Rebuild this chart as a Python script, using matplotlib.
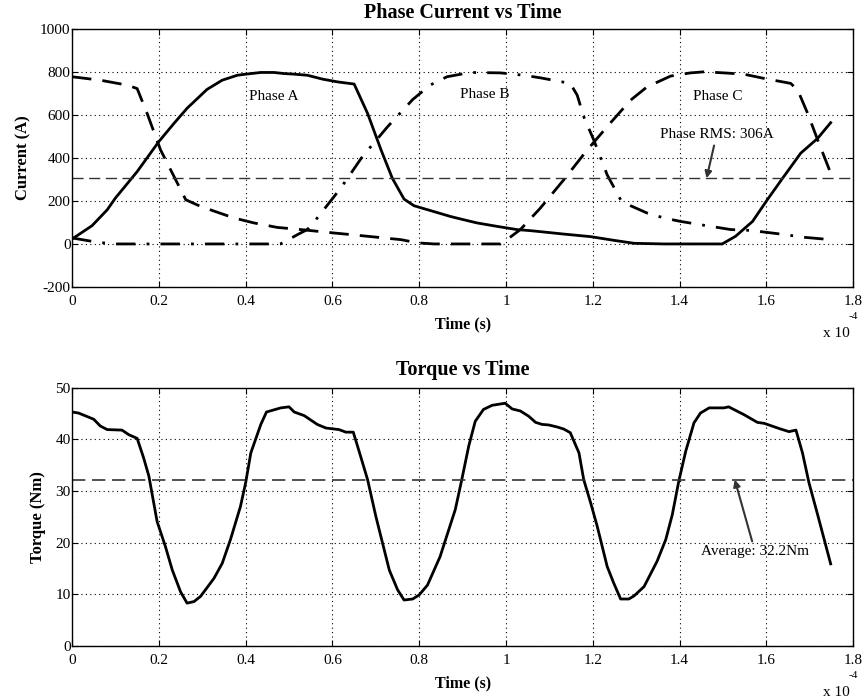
import matplotlib
matplotlib.use("Agg")
import matplotlib.pyplot as plt

plt.rcParams['font.family'] = ['Liberation Serif', 'DejaVu Serif']
plt.rcParams['axes.unicode_minus'] = False

# ---- Data (time in units of 1e-4 s) ----
t_a = [0, 0.046, 0.081, 0.1, 0.15, 0.2, 0.235, 0.265, 0.311, 0.346, 0.381, 0.4, 0.435, 0.465,
       0.488, 0.512, 0.542, 0.577, 0.612, 0.65, 0.681, 0.712, 0.738, 0.765, 0.788, 0.825,
       0.872, 0.902, 0.933, 0.979, 1.025, 1.056, 1.095, 1.133, 1.195, 1.248, 1.295, 1.364,
       1.498, 1.529, 1.568, 1.602, 1.64, 1.679, 1.718, 1.748]
i_a = [23, 85, 159, 214, 337, 477, 562, 632, 720, 763, 786, 791, 799, 799,
       794, 791, 786, 768, 755, 745, 608, 438, 306, 209, 178, 156,
       128, 113, 98, 82, 67, 62, 54, 46, 34, 17, 3, 0,
       0, 36, 105, 206, 314, 423, 492, 565]

t_b = [0, 0.058, 0.096, 0.48, 0.496, 0.519, 0.542, 0.565, 0.619, 0.669, 0.727, 0.785, 0.825,
       0.864, 0.918, 0.987, 1.041, 1.079, 1.148, 1.164, 1.179, 1.202, 1.233, 1.264, 1.287,
       1.325, 1.364, 1.402, 1.456, 1.518, 1.564, 1.625, 1.687, 1.748]
i_b = [28, 8, 0, 0, 17, 43, 67, 121, 260, 407, 546, 673, 740,
       779, 799, 797, 786, 774, 748, 693, 593, 485, 322, 206, 178,
       144, 121, 105, 87, 67, 63, 48, 31, 20]

t_c = [0, 0.065, 0.127, 0.15, 0.173, 0.204, 0.235, 0.262, 0.296, 0.373, 0.419, 0.473, 0.527,
       0.604, 0.65, 0.704, 0.758, 0.796, 0.835, 0.987, 1.002, 1.033, 1.079, 1.133, 1.187,
       1.241, 1.287, 1.325, 1.379, 1.425, 1.456, 1.502, 1.548, 1.595, 1.656, 1.672, 1.695,
       1.718, 1.748]
i_c = [779, 763, 740, 724, 608, 438, 314, 206, 175, 121, 98, 77, 67,
       51, 42, 31, 20, 5, 0, 0, 20, 67, 167, 299, 438,
       565, 670, 732, 782, 797, 802, 797, 791, 771, 748, 717, 608,
       485, 330]

phase_rms = 306

t_q = [0, 0.015, 0.05, 0.065, 0.081, 0.115, 0.131, 0.15, 0.165, 0.177, 0.196, 0.215, 0.231,
       0.25, 0.265, 0.281, 0.296, 0.327, 0.346, 0.365, 0.388, 0.4, 0.412, 0.435, 0.448,
       0.481, 0.5, 0.512, 0.535, 0.565, 0.585, 0.615, 0.631, 0.648, 0.665, 0.681, 0.7,
       0.731, 0.75, 0.765, 0.785, 0.8, 0.819, 0.848, 0.883, 0.898, 0.914, 0.929, 0.948,
       0.968, 0.998, 1.014, 1.033, 1.052, 1.068, 1.083, 1.098, 1.118, 1.133, 1.148, 1.168,
       1.179, 1.195, 1.21, 1.233, 1.248, 1.264, 1.283, 1.295, 1.318, 1.348, 1.368, 1.383,
       1.398, 1.414, 1.433, 1.448, 1.468, 1.502, 1.513, 1.548, 1.579, 1.595, 1.633, 1.652,
       1.668, 1.683, 1.698, 1.718, 1.748]
torque = [45.3, 45.1, 43.9, 42.6, 41.9, 41.8, 40.9, 40.2, 36.4, 32.9, 24.1, 19.3, 14.7,
          10.5, 8.3, 8.6, 9.6, 13.1, 16.0, 20.6, 27.0, 31.6, 37.4, 42.9, 45.3,
          46.1, 46.3, 45.3, 44.6, 42.9, 42.2, 41.9, 41.4, 41.4, 36.7, 32.2, 25.1,
          14.7, 10.9, 8.9, 9.1, 9.9, 11.8, 17.3, 26.4, 32.2, 38.7, 43.5, 45.8,
          46.6, 47.0, 45.9, 45.5, 44.5, 43.3, 42.9, 42.8, 42.4, 42.0, 41.3, 37.4,
          32.2, 27.7, 23.2, 15.4, 12.2, 9.1, 9.1, 9.7, 11.5, 16.4, 20.6, 25.4,
          31.9, 37.7, 43.2, 45.1, 46.1, 46.1, 46.3, 44.8, 43.3, 43.1, 42.0, 41.5,
          41.8, 37.4, 31.6, 25.4, 15.9]
torque_avg = 32.2

x_ticks = [0, 0.2, 0.4, 0.6, 0.8, 1, 1.2, 1.4, 1.6, 1.8]
x_ticklabels = ['0', '0.2', '0.4', '0.6', '0.8', '1', '1.2', '1.4', '1.6', '1.8']
cur_ticks = [-200, 0, 200, 400, 600, 800, 1000]
tq_ticks = [0, 10, 20, 30, 40, 50]

fig = plt.figure(figsize=(8.68, 6.98), dpi=100)
ax1 = fig.add_axes([0.083, 0.589, 0.9, 0.369])
ax2 = fig.add_axes([0.083, 0.0745, 0.9, 0.37])


def style(ax, yticks):
    ax.set_xlim(0, 1.8)
    ax.set_xticks(x_ticks)
    ax.set_xticklabels(x_ticklabels)
    ax.set_yticks(yticks)
    ax.set_ylim(yticks[0], yticks[-1])
    ax.tick_params(direction='in', top=True, right=True, labelsize=11, length=4, width=0.8)
    ax.tick_params(axis='y', pad=1)
    ax.tick_params(axis='x', pad=6)
    ax.grid(True, linestyle=(0, (1, 3)), color='black', linewidth=0.8)
    for s in ax.spines.values():
        s.set_linewidth(1.0)
    ax.text(0.978, -0.18, 'x 10', transform=ax.transAxes, ha='center', va='center', fontsize=11)
    ax.text(1.0, -0.115, '-4', transform=ax.transAxes, ha='center', va='center', fontsize=8)


arrow_kw = dict(arrowstyle='-|>', color='#333333', lw=1.5, shrinkA=1, shrinkB=0,
                mutation_scale=10)

# ---- Top plot ----
ax1.plot(t_a, i_a, color='black', lw=2)
ax1.plot(t_b, i_b, color='black', lw=2, dashes=(7, 4, 1, 4))
ax1.plot(t_c, i_c, color='black', lw=2, dashes=(7, 4))
ax1.axhline(phase_rms, color='#333333', lw=1, dashes=(8, 4))
style(ax1, cur_ticks)
ax1.set_title('Phase Current vs Time', fontsize=14.5, fontweight='bold', pad=8)
ax1.set_xlabel('Time (s)', fontsize=11.5, fontweight='bold', labelpad=6)
ax1.set_ylabel('Current (A)', fontsize=12, fontweight='bold', labelpad=6)
ax1.text(0.465, 686, 'Phase A', ha='center', va='center', fontsize=11)
ax1.text(0.952, 698, 'Phase B', ha='center', va='center', fontsize=11)
ax1.text(1.487, 686, 'Phase C', ha='center', va='center', fontsize=11)
ax1.annotate('Phase RMS: 306A', xy=(1.462, phase_rms), xytext=(1.485, 508),
             ha='center', va='center', fontsize=11, arrowprops=arrow_kw)

# ---- Bottom plot ----
ax2.plot(t_q, torque, color='black', lw=2)
ax2.axhline(torque_avg, color='#333333', lw=1.2, dashes=(8, 4))
style(ax2, tq_ticks)
ax2.set_title('Torque vs Time', fontsize=14.5, fontweight='bold', pad=9)
ax2.set_xlabel('Time (s)', fontsize=11.5, fontweight='bold', labelpad=6)
ax2.set_ylabel('Torque (Nm)', fontsize=12, fontweight='bold', labelpad=7)
ax2.annotate('Average: 32.2Nm', xy=(1.527, torque_avg), xytext=(1.574, 18.2),
             ha='center', va='center', fontsize=11, arrowprops=arrow_kw)

fig.savefig('out.png', dpi=100)
